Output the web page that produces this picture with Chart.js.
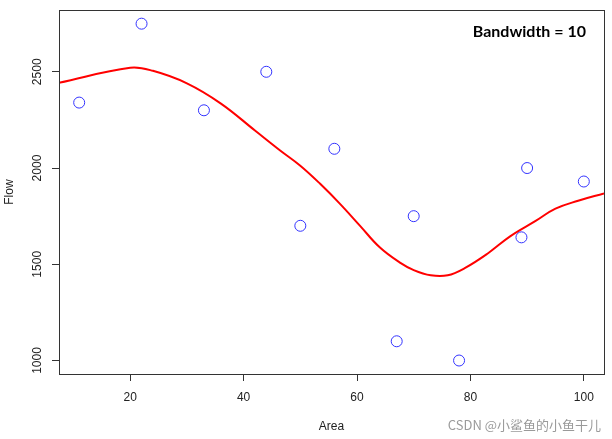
<!DOCTYPE html>
<html>
<head>
<meta charset="utf-8">
<script src="https://cdn.jsdelivr.net/npm/chart.js"></script>
<style>
  body { margin: 0; background: #fff; }
</style>
</head>
<body>
<canvas id="chart" width="612" height="439"></canvas>
<script>
// observed data
const areaValues = [11, 22, 33, 44, 50, 56, 67, 70, 78, 89, 90, 100];
const flowValues = [2340, 2750, 2300, 2500, 1700, 2100, 1100, 1750, 1000, 1640, 2000, 1930];

// kernel smooth curve (bandwidth = 10)
const smoothArea = [7.44, 20, 24, 30, 36, 42, 46.5, 50, 53.5, 57, 60.5, 64, 67.5, 70, 73, 76, 79, 83, 87, 91.5, 95, 99, 103.56];
const smoothFlow = [2443, 2521, 2505, 2440, 2335, 2195, 2090, 2012, 1918, 1814, 1701, 1588, 1510, 1470, 1443, 1443, 1480, 1555, 1645, 1725, 1789, 1830, 1868];

// axis ticks
const xTicks = [20, 40, 60, 80, 100];
const yTicks = [1000, 1500, 2000, 2500];

const ctx = document.getElementById("chart").getContext("2d");

// box, rotated y labels, annotation and watermark
const extras = {
    id: "extras",
    afterDraw(chart) {
        const c = chart.ctx;
        const a = chart.chartArea;
        const y = chart.scales.y;
        c.save();
        c.strokeStyle = "#333";
        c.lineWidth = 1;
        c.strokeRect(Math.round(a.left) + 0.5, Math.round(a.top) + 0.5,
            Math.round(a.right - a.left), Math.round(a.bottom - a.top));

        c.fillStyle = "#222";
        c.font = "12px 'Liberation Sans', Arial, sans-serif";
        c.textAlign = "center";
        c.textBaseline = "middle";
        yTicks.forEach(v => {
            const py = y.getPixelForValue(v);
            c.save();
            c.translate(38, py);
            c.rotate(-Math.PI / 2);
            c.fillText(String(v), 0, 0);
            c.restore();
        });

        c.save();
        c.translate(10, (a.top + a.bottom) / 2);
        c.rotate(-Math.PI / 2);
        c.fillText("Flow", 0, 0);
        c.restore();

        c.fillText("Area", (a.left + a.right) / 2, 427);

        c.fillStyle = "#000";
        c.font = "bold 16px Lato, 'Open Sans', sans-serif";
        c.textAlign = "right";
        c.fillText("Bandwidth = 10", 586, 32);

        c.fillStyle = "#9a9a9a";
        c.font = "13px 'Noto Sans CJK SC', sans-serif";
        c.fillText("CSDN @小鲨鱼的小鱼干儿", 601, 425);
        c.restore();
    }
};

const chart = new Chart(ctx, {
    type: "scatter",
    data: {
        datasets: [
            {
                label: "Flow",
                data: areaValues.map((x, i) => ({ x: x, y: flowValues[i] })),
                showLine: false,
                pointStyle: "circle",
                pointRadius: 5.5,
                pointBorderWidth: 1,
                pointBorderColor: "#3333ff",
                pointBackgroundColor: "rgba(0,0,0,0)",
            },
            {
                label: "ksmooth",
                data: smoothArea.map((x, i) => ({ x: x, y: smoothFlow[i] })),
                showLine: true,
                borderColor: "#ff0000",
                borderWidth: 2,
                pointRadius: 0,
                tension: 0.4,
                fill: false,
            },
        ],
    },
    options: {
        responsive: false,
        animation: false,
        layout: { padding: { left: 0, right: 8, top: 8, bottom: 0 } },
        scales: {
            x: {
                type: "linear",
                min: 7.44,
                max: 103.56,
                afterBuildTicks: (s) => { s.ticks = xTicks.map(v => ({ value: v })); },
                afterFit: (s) => { s.height = 439 - 374; },
                grid: { drawOnChartArea: false, drawTicks: true, tickLength: 7, color: "#333" },
                border: { display: false },
                ticks: {
                    color: "#222",
                    padding: 9,
                    maxRotation: 0,
                    font: { size: 12, family: "'Liberation Sans', Arial, sans-serif" },
                },
            },
            y: {
                type: "linear",
                min: 930,
                max: 2820,
                afterBuildTicks: (s) => { s.ticks = yTicks.map(v => ({ value: v })); },
                afterFit: (s) => { s.width = 59; },
                grid: { drawOnChartArea: false, drawTicks: true, tickLength: 7, color: "#333" },
                border: { display: false },
                ticks: { color: "rgba(0,0,0,0)", font: { size: 12 } },
            },
        },
        plugins: {
            legend: { display: false },
            tooltip: { enabled: false },
        },
    },
    plugins: [extras],
});
</script>
</body>
</html>
